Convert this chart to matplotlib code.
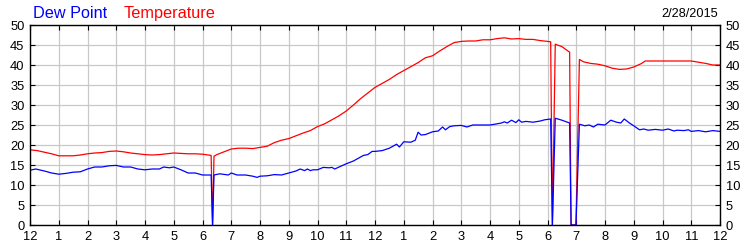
import numpy as np
import matplotlib
matplotlib.use("Agg")
import matplotlib.pyplot as plt
from matplotlib.ticker import MultipleLocator

# hours since midnight, values in deg F
temp_hours = [0.0, 0.25, 0.5, 0.75, 1.0, 1.25, 1.5, 1.75, 2.0, 2.25, 2.5, 2.75,
              3.0, 3.25, 3.5, 3.75, 4.0, 4.25, 4.5, 4.75, 5.0, 5.25, 5.5, 5.75,
              6.0, 6.3, 6.35, 6.4, 6.5, 6.75, 7.0, 7.25, 7.5, 7.75, 8.0, 8.25,
              8.5, 8.75, 9.0, 9.25, 9.5, 9.75, 10.0, 10.25, 10.5, 10.75, 11.0,
              11.25, 11.5, 11.75, 12.0, 12.25, 12.5, 12.75, 13.0, 13.25, 13.5,
              13.75, 14.0, 14.25, 14.5, 14.75, 15.0, 15.25, 15.5, 15.75, 16.0,
              16.25, 16.5, 16.75, 17.0, 17.25, 17.5, 17.75, 18.0, 18.11, 18.17,
              18.27, 18.5, 18.77, 18.82, 18.99, 19.11, 19.25, 19.5, 19.75, 20.0,
              20.25, 20.5, 20.75, 21.0, 21.25, 21.4, 21.75, 22.0, 22.5, 23.0,
              23.25, 23.5, 23.75, 24.0]
temp_values = [18.8, 18.6, 18.2, 17.8, 17.3, 17.3, 17.3, 17.5, 17.8, 18.0, 18.1, 18.4,
               18.5, 18.3, 18.0, 17.8, 17.6, 17.5, 17.6, 17.8, 18.0, 17.9, 17.8, 17.8,
               17.7, 17.4, 0.0, 17.2, 17.6, 18.3, 19.0, 19.2, 19.2, 19.1, 19.4, 19.7,
               20.6, 21.2, 21.6, 22.3, 23.0, 23.6, 24.6, 25.3, 26.3, 27.3, 28.5,
               30.0, 31.6, 33.0, 34.4, 35.4, 36.4, 37.6, 38.6, 39.6, 40.6,
               41.8, 42.3, 43.5, 44.6, 45.6, 45.9, 46.0, 46.0, 46.3, 46.3,
               46.6, 46.8, 46.5, 46.6, 46.4, 46.4, 46.1, 45.9, 45.8, 0.0,
               45.2, 44.6, 43.2, 0.0, 0.0, 41.4, 40.8, 40.4, 40.2, 39.8,
               39.2, 38.9, 39.0, 39.5, 40.3, 41.0, 41.0, 41.0, 41.0, 41.0,
               40.7, 40.4, 40.0, 40.0]

dew_hours = [0.0, 0.2, 0.5, 0.75, 1.0, 1.25, 1.5, 1.75, 2.0, 2.25, 2.5, 2.75,
             3.0, 3.25, 3.5, 3.75, 4.0, 4.25, 4.5, 4.65, 4.85, 5.0, 5.25, 5.5,
             5.75, 6.0, 6.3, 6.35, 6.4, 6.6, 6.9, 7.0, 7.2, 7.5, 7.75, 7.9,
             8.0, 8.25, 8.5, 8.75, 9.0, 9.25, 9.4, 9.55, 9.65, 9.75, 9.85, 10.0,
             10.2, 10.4, 10.5, 10.6, 10.75, 11.0, 11.25, 11.5, 11.6, 11.75, 11.9,
             12.0, 12.25, 12.5, 12.75, 12.85, 13.0, 13.25, 13.4, 13.5, 13.6,
             13.75, 14.0, 14.2, 14.35, 14.45, 14.6, 14.75, 15.0, 15.2, 15.4,
             15.75, 16.0, 16.25, 16.4, 16.5, 16.6, 16.75, 16.9, 17.0, 17.1,
             17.25, 17.5, 17.75, 17.9, 18.11, 18.17, 18.27, 18.5, 18.77, 18.82,
             18.99, 19.11, 19.3, 19.45, 19.6, 19.75, 20.0, 20.2, 20.4, 20.55,
             20.67, 20.85, 21.0, 21.2, 21.35, 21.5, 21.75, 22.0, 22.2, 22.4,
             22.5, 22.75, 22.9, 23.0, 23.25, 23.5, 23.75, 24.0]
dew_values = [13.7, 14.0, 13.5, 13.0, 12.7, 12.9, 13.2, 13.3, 14.0, 14.5, 14.5, 14.8,
              14.9, 14.5, 14.5, 14.0, 13.8, 14.0, 14.0, 14.5, 14.3, 14.5, 13.8, 13.0,
              13.0, 12.5, 12.5, 0.0, 12.5, 12.8, 12.5, 13.0, 12.5, 12.5, 12.2, 11.9,
              12.2, 12.3, 12.6, 12.5, 13.0, 13.5, 14.0, 13.6, 14.0, 13.6, 13.8, 13.8,
              14.4, 14.3, 14.4, 14.0, 14.5, 15.3, 16.0, 17.0, 17.4, 17.6, 18.4,
              18.4, 18.6, 19.2, 20.2, 19.5, 20.8, 20.7, 21.2, 23.2, 22.5,
              22.6, 23.3, 23.5, 24.5, 23.8, 24.6, 24.8, 24.9, 24.5, 25.0,
              25.0, 25.0, 25.3, 25.5, 25.8, 25.5, 26.2, 25.6, 26.3, 25.7,
              25.9, 25.7, 26.0, 26.3, 26.5, 0.0, 26.7, 26.2, 25.5, 0.0,
              0.0, 25.2, 24.8, 25.0, 24.5, 25.2, 25.0, 26.2, 25.7, 25.5,
              26.5, 25.5, 24.8, 23.8, 24.0, 23.7, 23.9, 23.7, 24.0, 23.5,
              23.7, 23.6, 23.8, 23.4, 23.6, 23.3, 23.6, 23.4]

hour_labels = ["12", "1", "2", "3", "4", "5", "6", "7", "8", "9", "10", "11"] * 2 + ["12"]
date_label = "2/28/2015"

plt.rcParams["font.family"] = ["Liberation Sans", "DejaVu Sans"]

fig = plt.figure(figsize=(7.5, 2.5), dpi=100)
ax = fig.add_axes([0.04, 0.1, 0.92, 0.8])

ax.plot(temp_hours, temp_values, color="#ff0000", lw=0.9)
ax.plot(dew_hours, dew_values, color="#0000ff", lw=0.9)

ax.set_xlim(0, 24)
ax.set_ylim(0, 50)
ax.set_xticks(range(25))
ax.set_xticklabels(hour_labels)
ax.yaxis.set_major_locator(MultipleLocator(5))
ax.grid(True, color="#c8c8c8", lw=0.9)
ax.set_axisbelow(True)

ax.tick_params(direction="in", length=3.5, width=0.8, labelsize=9.3, pad=4,
               top=True, right=True, labelright=True, colors="black")
for s in ax.spines.values():
    s.set_linewidth(1.0)

fig.text(33 / 750, 1 - 18.3 / 250, "Dew Point", color="#0000ff", fontsize=11.7, va="baseline")
fig.text(124 / 750, 1 - 18.3 / 250, "Temperature", color="#ff0000", fontsize=11.7, va="baseline")
fig.text(718 / 750, 1 - 16.7 / 250, date_label, color="black", fontsize=9.2, ha="right", va="baseline")

fig.savefig("out.png", dpi=100)
